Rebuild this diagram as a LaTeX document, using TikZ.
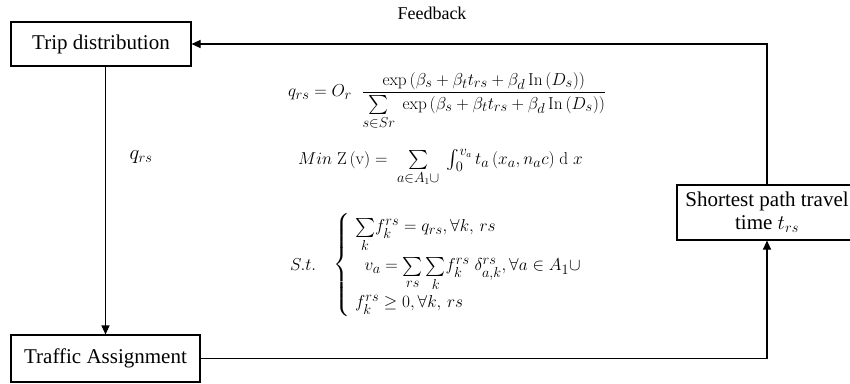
\documentclass[tikz,border=0pt]{standalone}
\usepackage{amsmath, amssymb}
\usepackage[no-math]{fontspec}
\setmainfont{Liberation Serif}
\usetikzlibrary{arrows.meta, positioning, calc}

\begin{document}
\begin{tikzpicture}[x=1pt, y=-1pt,
    stepbox/.style={draw, line width=1.1pt, rectangle, inner sep=0pt,
      font=\fontsize{21}{25}\selectfont},
    flow/.style={line width=1.1pt, -{Triangle[length=9pt, width=8pt]}},
    eq/.style={inner sep=0pt, font=\fontsize{19}{23}\selectfont}]
  \useasboundingbox (0,0) rectangle (850,383);

  % --- Boxes ---
  \node[stepbox, minimum width=180pt, minimum height=44pt] (trip) at (101,44) {Trip distribution};
  \node[stepbox, minimum width=189pt, minimum height=47pt] (assign) at (105.5,358.5) {Traffic Assignment};
  \node[stepbox, minimum width=180pt, minimum height=55pt, align=center] (sptime) at (767,212.5)
    {Shortest path travel\\[-2pt]time $t_{rs}$};

  % --- Connectors ---
  \draw[flow] (sptime.north) -- (sptime.north |- trip.east) -- (trip.east);
  \draw[flow] (assign.north |- trip.south) -- (assign.north);
  \draw[flow] (assign.east) -- (assign.east -| sptime.south) -- (sptime.south);

  % --- Labels ---
  \node[font=\fontsize{18}{21}\selectfont] (fblabel) at (432,13) {Feedback};
  \node[font=\fontsize{20}{24}\selectfont] (qlabel) at (141,157) {$q_{rs}$};

  % --- Model ---
  \node[eq, anchor=west] (distr) at (288,101)
    {$q_{rs} = O_r\ \ \dfrac{\exp\,(\beta_s + \beta_t t_{rs} + \beta_d\,\mathrm{In}\,(D_s))}
      {{\textstyle\sum\limits_{s\in Sr}}\ \exp\,(\beta_s + \beta_t t_{rs} + \beta_d\,\mathrm{In}\,(D_s))}$};
  \node[eq, anchor=west] (minz) at (298,168)
    {$Min\ \mathrm{Z}\,(\mathrm{v}) = \ {\textstyle\sum\limits_{a\in A_1\cup}}\ \int_0^{v_a} t_a\,(x_a,n_a c)\ \mathrm{d}\ x$};
  \node[eq, anchor=west] (st) at (290,265) {$S.t.$};
  \node[eq, anchor=west] (cons) at (333,265)
    {$\left\{\begin{array}{l}
      {\textstyle\sum\limits_{k}} f_k^{rs} = q_{rs}, \forall k,\, rs\\[16pt]
      \ \ v_a = {\textstyle\sum\limits_{rs}\sum\limits_{k}} f_k^{rs}\ \delta_{a,k}^{rs}, \forall a \in A_1 \cup\\[12pt]
      f_k^{rs} \geq 0, \forall k,\, rs
    \end{array}\right.$};
\end{tikzpicture}
\end{document}
